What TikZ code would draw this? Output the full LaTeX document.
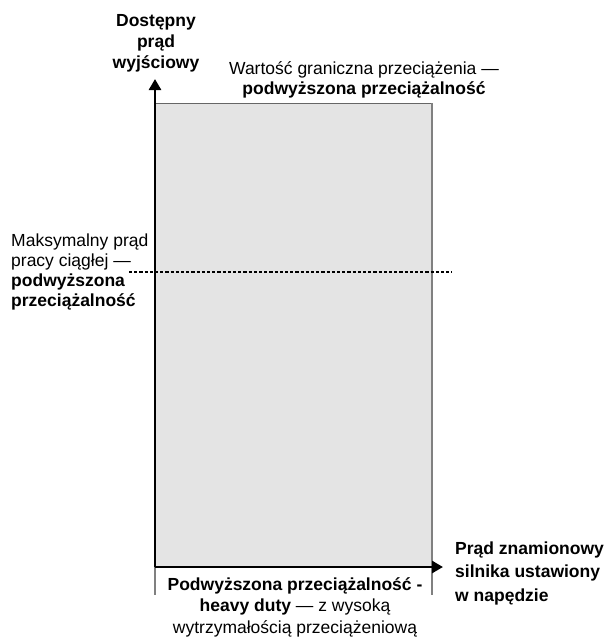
\documentclass[tikz,border=0pt]{standalone}
\usepackage{fontspec}
\setmainfont{Liberation Sans}
\usetikzlibrary{arrows.meta}
\definecolor{areafill}{HTML}{E4E4E4}
\definecolor{edgegray}{HTML}{808080}
\tikzset{
  lbl/.style={inner sep=0pt, font=\fontsize{17.5}{21}\selectfont},
  axis/.style={line width=2.6pt, -{Triangle[width=12pt,length=11pt]}},
  edge/.style={draw=edgegray, line width=1.5pt},
  limit/.style={line width=1.5pt, dash pattern=on 3.2pt off 2pt}
}
\begin{document}
\begin{tikzpicture}[x=1pt,y=-1pt]
\useasboundingbox (0,0) rectangle (607,638);
% area
\fill[areafill] (155,103) rectangle (432,567);
\draw[draw=edgegray!80!black, line width=1pt] (155,103) -- (432,103);
\draw[edge] (432,103) -- (432,595);
\draw[edge] (155,567) -- (155,595);
% coordinates
\coordinate (o) at (155,567);
\coordinate (ytip) at (155,79);
\coordinate (xtip) at (443,567);
\coordinate (dl) at (129,272);
\coordinate (dr) at (452,272);
% dashed limit
\draw[limit] (dl) -- (dr);
% axes
\draw[axis] (o) -- (ytip);
\draw[axis] (o) -- (xtip);
% labels
\node[lbl, align=center] (ylab) at (156,43) {\textbf{Dostępny}\\\textbf{prąd}\\\textbf{wyjściowy}};
\node[lbl, align=center, font=\fontsize{17.5}{20.5}\selectfont] (toplab) at (364,80) {Wartość graniczna przeciążenia —\\\textbf{podwyższona przeciążalność}};
\node[lbl, align=left, anchor=west, font=\fontsize{17.5}{20.3}\selectfont] (leftlab) at (11,272) {Maksymalny prąd\\pracy ciągłej —\\\textbf{podwyższona}\\\textbf{przeciążalność}};
\node[lbl, align=center, font=\fontsize{17.5}{21.5}\selectfont] (botlab) at (295,607) {\textbf{Podwyższona przeciążalność -}\\\textbf{heavy duty} — z wysoką\\wytrzymałością przeciążeniową};
\node[lbl, align=left, anchor=west, font=\fontsize{17.5}{23.5}\selectfont] (xlab) at (455,573) {\textbf{Prąd znamionowy}\\\textbf{silnika ustawiony}\\\textbf{w napędzie}};
\end{tikzpicture}
\end{document}
